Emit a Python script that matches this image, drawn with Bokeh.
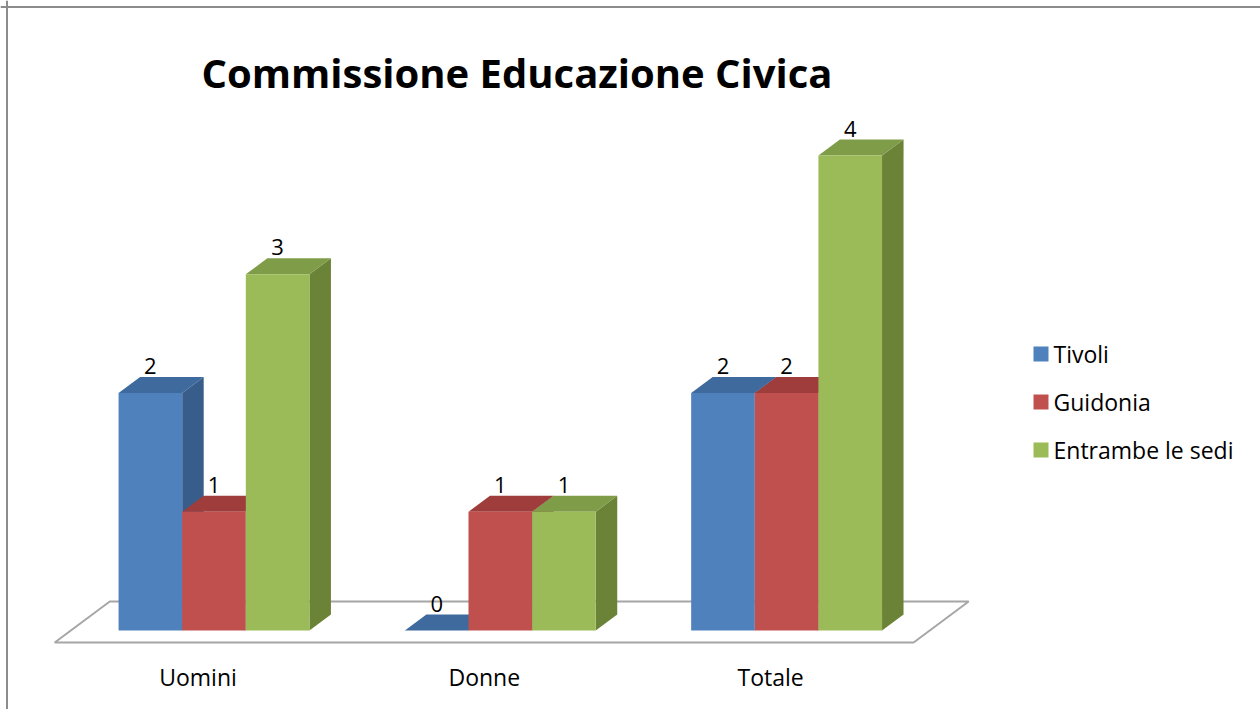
from bokeh.plotting import figure
from bokeh.models import Range1d, ColumnDataSource, Span
from bokeh.core.properties import value
from bokeh.embed import file_html
from bokeh.resources import INLINE

# ---------------- data ----------------
categories = ["Uomini", "Donne", "Totale"]
series_names = ["Tivoli", "Guidonia", "Entrambe le sedi"]
tivoli = [2, 0, 2]
guidonia = [1, 1, 2]
entrambe = [3, 1, 4]
title_text = "Commissione Educazione Civica"

series_values = [tivoli, guidonia, entrambe]
front_colors = ["#4F81BD", "#C0504D", "#9BBB59"]
top_colors = ["#3E6A9E", "#9E3D3B", "#7F9C48"]
side_colors = ["#385D8A", "#8C3836", "#6B8336"]

# ---------------- geometry (pixel -> data helpers) ----------------
W, H = 1260, 709
PX_U = 286.3      # px per category unit
PY_U = 118.75     # px per value unit
X0 = 213.5        # screen x of category 0 centre
Y0 = 630.0        # screen y of value 0


def sx(px):
    return (px - X0) / PX_U


def sy(py):
    return (Y0 - py) / PY_U


DX = 21.5 / PX_U   # depth offset (x) per depth unit
DY = 16.0 / PY_U   # depth offset (y) per depth unit
BAR_W = 2.0 / 9.0
GROUP_LEFT = -1.0 / 3.0

p = figure(width=W, height=H, output_backend="svg", toolbar_location=None,
           x_range=Range1d(sx(0), sx(W)), y_range=Range1d(sy(H), sy(0)),
           x_axis_type=None, y_axis_type=None, min_border=0,
           background_fill_color="white", border_fill_color="white")
p.grid.visible = False
p.outline_line_color = None

# border (left + top)
p.add_layout(Span(location=sx(6.5), dimension="height", line_color="#8c8c8c", line_width=2))
p.add_layout(Span(location=sy(6.5), dimension="width", line_color="#8c8c8c", line_width=2))

# ---------------- floor ----------------
t_front, t_back = -0.75, 1.81
fx0, fx1 = -0.5, len(categories) - 0.5
floor_xs = [fx0 + t_front * DX, fx1 + t_front * DX, fx1 + t_back * DX, fx0 + t_back * DX]
floor_ys = [t_front * DY, t_front * DY, t_back * DY, t_back * DY]
p.patch(floor_xs, floor_ys, fill_color="white", line_color="#a6a6a6", line_width=2)

# ---------------- 3D bars ----------------
label_x, label_y, label_t = [], [], []
for j, vals in enumerate(series_values):
    lefts = [i + GROUP_LEFT + j * BAR_W for i in range(len(categories))]
    rights = [l + BAR_W for l in lefts]
    side_xs, side_ys, top_xs, top_ys = [], [], [], []
    for l, r, v in zip(lefts, rights, vals):
        side_xs.append([r, r + DX, r + DX, r])
        side_ys.append([0, DY, v + DY, v])
        top_xs.append([l, r, r + DX, l + DX])
        top_ys.append([v, v, v + DY, v + DY])
        label_x.append((l + r) / 2)
        label_y.append(v + DY)
        label_t.append(str(v))
    p.patches(side_xs, side_ys, fill_color=side_colors[j], line_color=None)
    p.patches(top_xs, top_ys, fill_color=top_colors[j], line_color=None)
    src = ColumnDataSource(dict(left=lefts, right=rights, top=vals, bottom=[0] * len(vals)))
    p.quad(left="left", right="right", top="top", bottom="bottom", source=src,
           fill_color=front_colors[j], line_color=None)

# data labels
p.text(x=label_x, y=label_y, text=label_t, text_align="center", text_baseline="middle",
       y_offset=-11, text_font=value("Open Sans"), text_font_size="22px", text_color="black")

# category labels
p.text(x=[i + sx(X0 - 16.0) for i in range(len(categories))], y=[sy(676)] * len(categories),
       text=categories, text_align="center", text_baseline="middle",
       text_font=value("Open Sans"), text_font_size="23px", text_color="black")

# title
p.text(x=[sx(516.5)], y=[sy(72)], text=[title_text], text_align="center",
       text_baseline="middle", text_font=value("Open Sans"), text_font_style="bold",
       text_font_size="40px", text_color="black")

# legend (manual)
leg_y = [353.5, 401.5, 449.5]
p.scatter(x=[sx(1040.5)] * 3, y=[sy(v) for v in leg_y], marker="square", size=15,
          fill_color=front_colors, line_color=None)
p.text(x=[sx(1053)] * 3, y=[sy(v) for v in leg_y], text=series_names,
       text_align="left", text_baseline="middle", text_font=value("Open Sans"),
       text_font_size="23px", text_color="black")

open("out.html", "w").write(file_html(p, INLINE))
